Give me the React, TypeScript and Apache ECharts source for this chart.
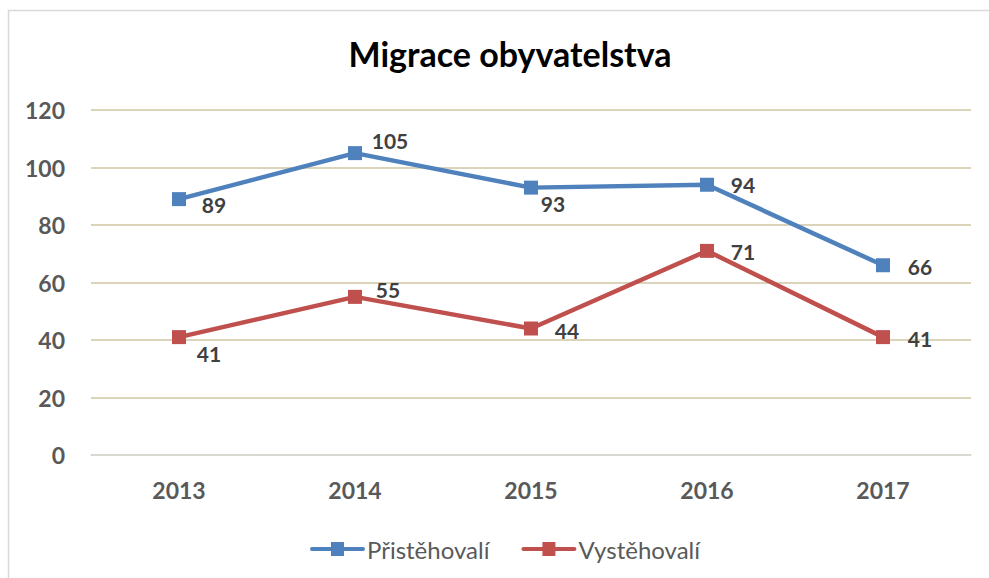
import React, { useEffect, useRef } from "react";
import * as echarts from "echarts";

const years = ["2013", "2014", "2015", "2016", "2017"];
const prist = [89, 105, 93, 94, 66];
const vyst = [41, 55, 44, 71, 41];
const pristOffsets = [[35, 5], [35, -13], [22, 16], [36, 0], [37, 1]];
const vystOffsets = [[30, 16], [33, -7], [36, 2], [36, 1], [37, 1]];

const FONT = "Lato, 'Open Sans', sans-serif";
const LEGEND_ICON = "path://M2,5 H53 A2,2 0 0 1 53,9 H2 A2,2 0 0 1 2,5 Z M21,0 H34 V14 H21 Z";

export default function App() {
  const ref = useRef<HTMLDivElement>(null);
  useEffect(() => {
    if (!ref.current) return;
    const chart = echarts.init(ref.current, undefined, { renderer: "svg" });
    const mk = (vals: number[], offs: number[][]) =>
      vals.map((v, i) => ({
        value: v,
        label: { offset: offs[i] },
      }));
    const labelStyle = {
      show: true,
      position: "inside" as const,
      color: "#404040",
      fontFamily: FONT,
      fontWeight: "bold" as const,
      fontSize: 21,
    };
    chart.setOption({
      animation: false,
      backgroundColor: "#ffffff",
      title: {
        text: "Migrace obyvatelstva",
        left: 505,
        textAlign: "center",
        top: 31,
        textStyle: { fontFamily: FONT, fontWeight: "bold", fontSize: 34, color: "#000000" },
      },
      graphic: [
        {
          type: "rect",
          shape: { x: 8.5, y: 10.5, width: 1000, height: 600 },
          style: { fill: "none", stroke: "#d9d9d9", lineWidth: 1.5 },
          silent: true,
        },
      ],
      legend: {
        left: 305,
        top: 532,
        itemWidth: 55,
        itemHeight: 14,
        itemGap: 32,
        textStyle: { fontFamily: FONT, fontSize: 24, color: "#595959", padding: [0, 0, 0, -3] },
        data: [
          { name: "Přistěhovalí", icon: LEGEND_ICON },
          { name: "Vystěhovalí", icon: LEGEND_ICON },
        ],
      },
      grid: { left: 91, right: 18, top: 110, bottom: 123 },
      xAxis: {
        type: "category",
        data: years,
        boundaryGap: true,
        axisLine: { show: true, lineStyle: { color: "#d9d9d9", width: 1.5 } },
        axisTick: { show: false },
        axisLabel: {
          margin: 23,
          color: "#595959",
          fontFamily: FONT,
          fontWeight: "bold",
          fontSize: 23,
        },
      },
      yAxis: {
        type: "value",
        min: 0,
        max: 120,
        interval: 20,
        axisLine: { show: false },
        axisTick: { show: false },
        splitLine: { lineStyle: { color: "#cfc6a4", width: 1.5 } },
        axisLabel: {
          margin: 26,
          color: "#595959",
          fontFamily: FONT,
          fontWeight: "bold",
          fontSize: 23,
        },
      },
      series: [
        {
          name: "Přistěhovalí",
          type: "line",
          data: mk(prist, pristOffsets),
          symbol: "rect",
          symbolSize: 14,
          lineStyle: { color: "#4f81bd", width: 4.5 },
          itemStyle: { color: "#4f81bd" },
          label: labelStyle,
        },
        {
          name: "Vystěhovalí",
          type: "line",
          data: mk(vyst, vystOffsets),
          symbol: "rect",
          symbolSize: 14,
          lineStyle: { color: "#c0504d", width: 4.5 },
          itemStyle: { color: "#c0504d" },
          label: labelStyle,
        },
      ],
    });
    return () => chart.dispose();
  }, []);
  return (
    <div
      ref={ref}
      style={{ position: "fixed", left: 0, top: 0, width: 989, height: 578 }}
    />
  );
}
